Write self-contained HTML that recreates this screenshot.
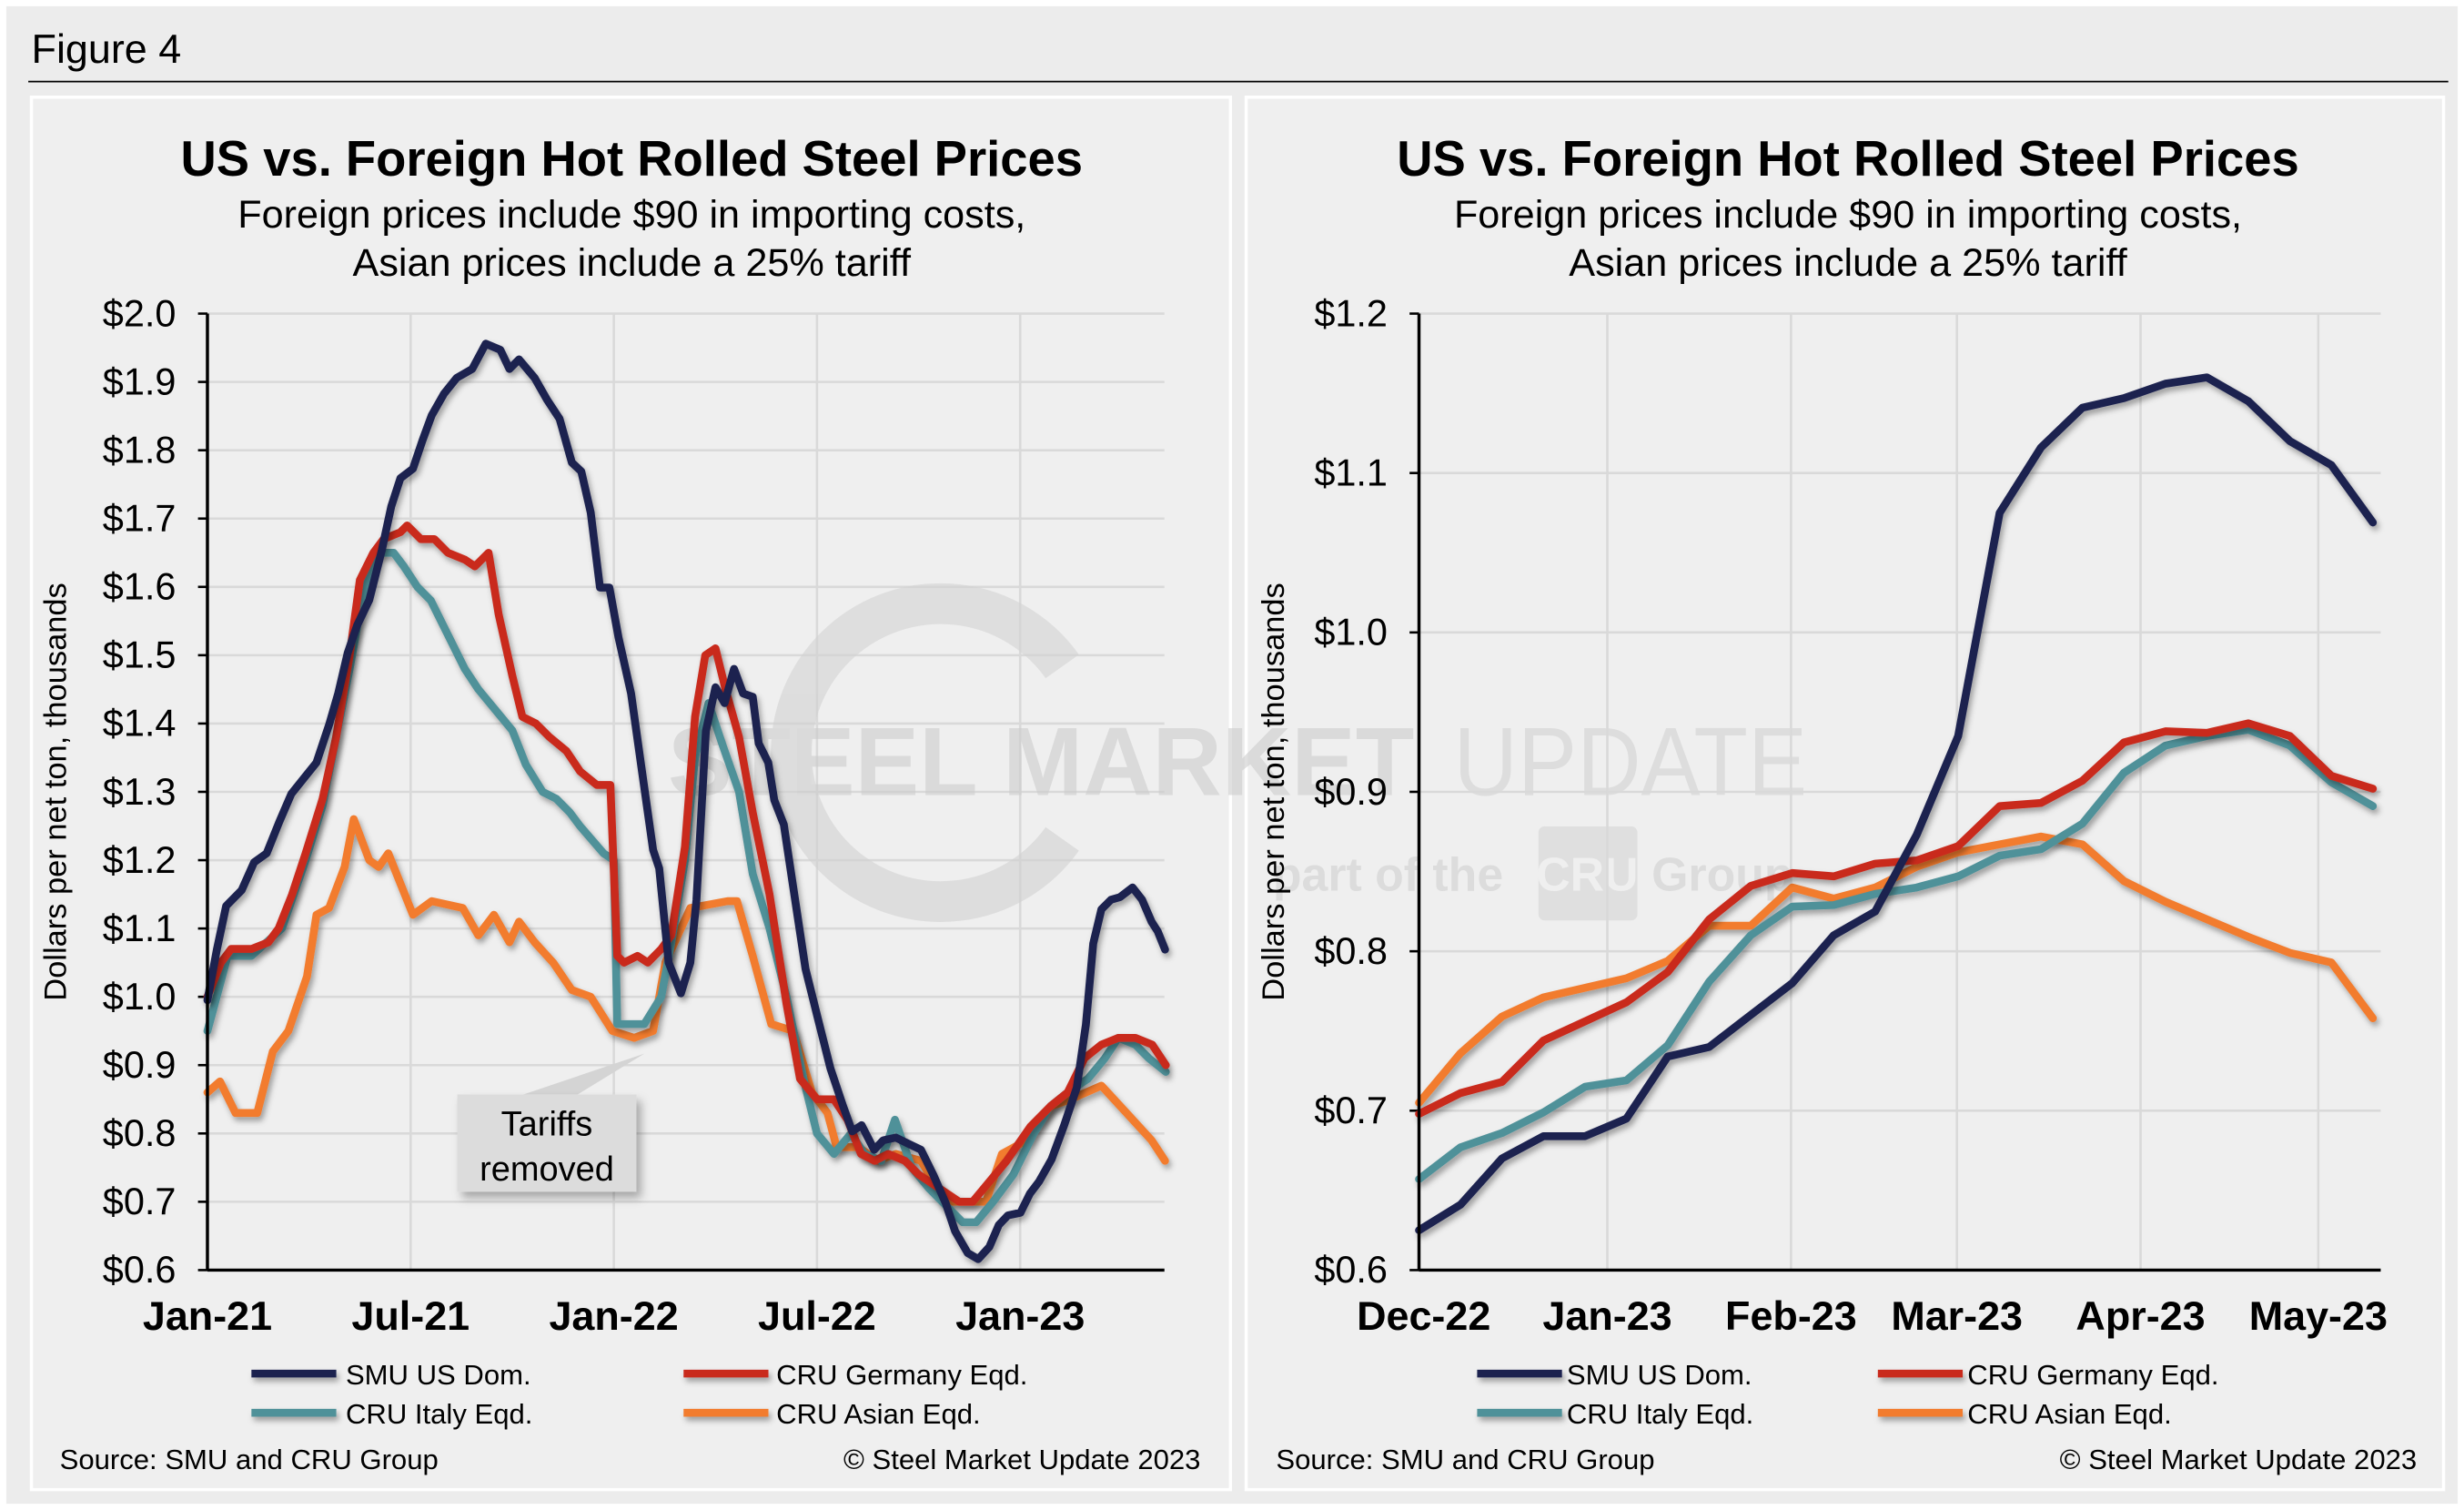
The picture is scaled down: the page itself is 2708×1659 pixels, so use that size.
<!DOCTYPE html>
<html><head><meta charset="utf-8"><style>
html,body{margin:0;padding:0;background:#ececec;}
svg{display:block;font-family:"Liberation Sans",Arial,sans-serif;}
</style></head><body>
<svg id="fig" width="2708" height="1659" viewBox="0 0 1568 963" preserveAspectRatio="none" xmlns="http://www.w3.org/2000/svg">
<defs>
<filter id="sh" filterUnits="userSpaceOnUse" x="0" y="0" width="1568" height="963"><feDropShadow dx="1.5" dy="2.5" stdDeviation="1.8" flood-color="#000" flood-opacity="0.35"/></filter>
<filter id="bsh" filterUnits="userSpaceOnUse" x="0" y="0" width="1568" height="963"><feDropShadow dx="3" dy="4" stdDeviation="3" flood-color="#000" flood-opacity="0.3"/></filter>
</defs>
<rect x="0" y="0" width="1568" height="963" fill="#ffffff"/>
<rect x="4" y="4" width="1560" height="955" fill="#ececec"/>
<text x="20" y="40" font-size="26" fill="#000">Figure 4</text>
<line x1="18" y1="52" x2="1558" y2="52" stroke="#000" stroke-width="1"/>
<rect x="20" y="62" width="763" height="888" fill="#efefef" stroke="#fff" stroke-width="2"/>
<rect x="793" y="62" width="762" height="888" fill="#efefef" stroke="#fff" stroke-width="2"/>
<g id="left"></g>
<g id="right"></g>
</svg>
<script>
// ---------- Left chart data (x = months since Jan-21) ----------
const leftXTicks = ["Jan-21","Jul-21","Jan-22","Jul-22","Jan-23"];
const leftYTicks = ["$0.6","$0.7","$0.8","$0.9","$1.0","$1.1","$1.2","$1.3","$1.4","$1.5","$1.6","$1.7","$1.8","$1.9","$2.0"];
const leftSmuX = [0,.28,.55,1.01,1.38,1.75,2.12,2.48,2.85,3.22,3.59,3.86,4.14,4.42,4.78,5.15,5.43,5.70,6.07,6.35,6.62,6.99,7.36,7.82,8.22,8.65,8.92,9.20,9.66,10.03,10.40,10.76,11.04,11.32,11.59,11.87,12.14,12.51,12.82,13.16,13.34,13.62,13.98,14.26,14.44,14.72,15.00,15.27,15.55,15.82,16.10,16.28,16.56,16.74,17.02,17.30,17.66,18.03,18.40,18.77,19.04,19.32,19.69,19.96,20.33,20.70,21.07,21.44,21.80,22.08,22.45,22.76,23.09,23.37,23.64,24.01,24.29,24.56,24.93,25.30,25.67,25.94,26.16,26.40,26.68,26.95,27.32,27.60,27.88,28.06,28.28];
const leftSmuY = [.995,1.069,1.133,1.156,1.197,1.210,1.256,1.297,1.320,1.343,1.398,1.444,1.503,1.544,1.581,1.654,1.718,1.759,1.773,1.814,1.851,1.883,1.906,1.919,1.956,1.947,1.919,1.933,1.906,1.874,1.846,1.782,1.769,1.709,1.599,1.599,1.526,1.444,1.334,1.215,1.188,1.050,1.005,1.050,1.142,1.389,1.453,1.430,1.480,1.444,1.439,1.371,1.343,1.288,1.252,1.160,1.041,.968,.895,.840,.803,.812,.776,.790,.794,.785,.776,.739,.698,.657,.625,.616,.634,.666,.680,.684,.712,.730,.762,.812,.867,.959,1.078,1.128,1.142,1.146,1.160,1.142,1.110,1.096,1.069];
const leftGerX = [0,.4,.7,1.3,1.8,2.1,2.5,2.9,3.4,3.8,4.2,4.5,4.9,5.2,5.7,5.9,6.3,6.7,7.1,7.6,7.9,8.3,8.6,9.0,9.3,9.7,10.1,10.6,11.0,11.5,11.9,12.1,12.3,12.7,13.0,13.4,13.7,14.1,14.4,14.7,15.0,15.3,15.7,16.1,16.6,17.1,17.5,18.0,18.5,18.9,19.3,19.7,20.1,20.6,21.0,21.6,22.2,22.6,23.1,23.6,24.3,24.9,25.4,25.9,26.4,26.9,27.4,27.9,28.3];
const leftGerY = [1.0,1.05,1.07,1.07,1.08,1.10,1.15,1.21,1.29,1.38,1.50,1.61,1.65,1.67,1.68,1.69,1.67,1.67,1.65,1.64,1.63,1.65,1.56,1.47,1.41,1.40,1.38,1.36,1.33,1.31,1.31,1.06,1.05,1.06,1.05,1.07,1.09,1.22,1.41,1.50,1.51,1.45,1.38,1.27,1.15,.99,.88,.85,.85,.82,.77,.76,.77,.76,.74,.72,.70,.70,.73,.76,.81,.84,.86,.91,.93,.94,.94,.93,.90];
const leftItaX = [0,.6,1.3,2.2,2.9,3.4,3.8,4.2,4.6,5.0,5.5,5.8,6.2,6.6,7.1,7.6,8.0,8.5,9.0,9.4,9.9,10.3,10.7,11.0,11.7,12.0,12.1,12.4,12.9,13.4,13.7,14.1,14.4,14.8,15.2,15.7,16.1,16.6,17.1,17.6,18.0,18.5,19.0,19.4,19.9,20.3,20.8,21.3,21.7,22.3,22.7,23.2,23.8,24.4,24.9,25.4,26.0,26.5,26.9,27.4,27.8,28.3];
const leftItaY = [.95,1.06,1.06,1.10,1.20,1.28,1.38,1.48,1.59,1.65,1.65,1.63,1.60,1.58,1.53,1.48,1.45,1.42,1.39,1.34,1.30,1.29,1.27,1.25,1.21,1.20,.96,.96,.96,1.0,1.08,1.20,1.35,1.43,1.37,1.30,1.18,1.10,1.00,.88,.80,.77,.80,.77,.76,.82,.75,.72,.70,.67,.67,.70,.74,.80,.84,.86,.88,.91,.94,.93,.91,.89];
const leftAsiX = [0,.37,.83,1.47,1.93,2.39,2.94,3.22,3.59,4.05,4.32,4.78,5.06,5.34,6.07,6.62,7.54,8.00,8.46,8.92,9.20,9.66,10.21,10.76,11.32,11.96,12.60,13.16,13.52,14.26,15.36,15.64,16.10,16.65,17.30,17.85,18.31,18.58,19.23,19.78,20.33,21.07,21.80,22.36,22.99,23.46,24.20,24.93,25.48,26.40,27.14,27.88,28.28];
const leftAsiY = [.86,.876,.83,.83,.92,.95,1.03,1.12,1.13,1.19,1.26,1.20,1.19,1.21,1.12,1.14,1.13,1.09,1.12,1.08,1.11,1.08,1.05,1.01,1.0,.95,.94,.95,1.05,1.13,1.14,1.14,1.06,.96,.95,.86,.83,.78,.78,.76,.77,.76,.70,.70,.70,.77,.79,.84,.85,.87,.83,.79,.76];

// ---------- Right chart data (x = weeks since early Dec-22) ----------
const rightXTicks = ["Dec-22","Jan-23","Feb-23","Mar-23","Apr-23","May-23"];
const rightXTickDays = [0,31,62,90,121,151];
const rightYTicks = ["$0.6","$0.7","$0.8","$0.9","$1.0","$1.1","$1.2"];
const rightSmu = [.625,.641,.670,.684,.684,.695,.734,.740,.760,.780,.810,.825,.873,.935,1.075,1.116,1.141,1.147,1.156,1.160,1.145,1.120,1.105,1.069];
const rightGer = [.698,.711,.718,.744,.756,.768,.787,.820,.841,.849,.847,.855,.857,.866,.891,.893,.907,.931,.938,.937,.943,.935,.910,.902];
const rightIta = [.657,.677,.686,.699,.715,.719,.741,.781,.810,.828,.829,.836,.840,.847,.860,.864,.880,.912,.929,.935,.939,.929,.906,.891];
const rightAsi = [.705,.736,.759,.771,.777,.783,.794,.816,.816,.840,.833,.840,.853,.862,.867,.872,.867,.844,.831,.820,.809,.799,.793,.758];

const COLORS = {smu:"#1b2150", ger:"#c92a1e", ita:"#4f9199", asi:"#f27c2e"};
const NS = "http://www.w3.org/2000/svg";
function mk(parent, tag, attrs, text){
  const e = document.createElementNS(NS, tag);
  for (const k in attrs) e.setAttribute(k, attrs[k]);
  if (text !== undefined) e.textContent = text;
  parent.appendChild(e);
  return e;
}

function drawFrame(g, cx, px0, px1, yTicks, yMin, yMax, ytX){
  const py0 = 200, py1 = 810;
  const yScale = v => py1 - (v - yMin) / (yMax - yMin) * (py1 - py0);
  const t1 = mk(g,"text",{x:cx,y:112,"text-anchor":"middle","font-size":31.5,"font-weight":"bold",fill:"#000"},"US vs. Foreign Hot Rolled Steel Prices");
  
  
  const s1 = mk(g,"text",{x:cx,y:145,"text-anchor":"middle","font-size":25,fill:"#000"},"Foreign prices include $90 in importing costs,");
  
  
  const s2 = mk(g,"text",{x:cx,y:176,"text-anchor":"middle","font-size":25,fill:"#000"},"Asian prices include a 25% tariff");
  
  
  yTicks.forEach((lab,i)=>{
    const v = yMin + i*(yMax-yMin)/(yTicks.length-1);
    const y = yScale(v);
    if (i>0){
      const gl = mk(g,"line",{x1:px0,x2:px1,y1:y,y2:y,stroke:"#d9d9d9","stroke-width":1.5});
      
      
    }
    mk(g,"line",{x1:px0-6,x2:px0,y1:y,y2:y,stroke:"#000","stroke-width":1.5});
    const tl = mk(g,"text",{x:px0-20,y:y+8,"text-anchor":"end","font-size":24,fill:"#000"},lab);
    
    
  });
  const yt = mk(g,"text",{x:0,y:0,"text-anchor":"middle","font-size":20,fill:"#000",transform:`translate(${ytX},505) rotate(-90)`},"Dollars per net ton, thousands");
  
  
  return {yScale, py0, py1};
}

function drawLine(g, xs, ys, xScale, yScale, color, name){
  let d = "";
  xs.forEach((x,i)=>{ d += (i?"L":"M") + xScale(x).toFixed(1) + " " + yScale(ys[i]).toFixed(1); });
  const p = mk(g,"path",{d, fill:"none", stroke:color, "stroke-width":5, "stroke-linejoin":"round", "stroke-linecap":"round", filter:"url(#sh)"});
  
  
}

function drawAxesLines(g, px0, px1, py0, py1){
  mk(g,"line",{x1:px0,x2:px0,y1:py0,y2:py1,stroke:"#000","stroke-width":2});
  mk(g,"line",{x1:px0,x2:px1,y1:py1,y2:py1,stroke:"#000","stroke-width":2});
}

function drawLegend(g, lx1, tx1, lx2, tx2){
  const items = [["SMU US Dom.",COLORS.smu,lx1,tx1,876],["CRU Germany Eqd.",COLORS.ger,lx2,tx2,876],["CRU Italy Eqd.",COLORS.ita,lx1,tx1,901],["CRU Asian Eqd.",COLORS.asi,lx2,tx2,901]];
  items.forEach(it=>{
    const l = mk(g,"line",{x1:it[2],x2:it[2]+54,y1:it[4],y2:it[4],stroke:it[1],"stroke-width":5,filter:"url(#sh)"});
    
    
    const t = mk(g,"text",{x:it[3],y:it[4]+7,"font-size":18,fill:"#000"},it[0]);
    
    
  });
}

function drawSource(g, x1, x2){
  const a = mk(g,"text",{x:x1,y:937,"font-size":18,fill:"#000"},"Source: SMU and CRU Group");
  
  
  const b = mk(g,"text",{x:x2,y:937,"font-size":18,fill:"#000","text-anchor":"end"},"© Steel Market Update 2023");
  
  
}

// ---------- LEFT ----------
(function(){
  const g = document.getElementById("left");
  const px0 = 132, px1 = 741;
  const f = drawFrame(g, 402, px0, px1, leftYTicks, 0.6, 2.0, 42);
  const monthPx = 21.55;
  const xScale = m => px0 + m*monthPx;
  leftXTicks.forEach((lab,i)=>{
    const x = xScale(i*6);
    if (i>0){
      const gl = mk(g,"line",{x1:x,x2:x,y1:f.py0,y2:f.py1,stroke:"#d9d9d9","stroke-width":1.5});
      
      
    }
    const t = mk(g,"text",{x:x,y:848,"text-anchor":"middle","font-size":26,"font-weight":"bold",fill:"#000"},lab);
    
    
  });
  // watermark
  const wm = mk(g,"g",{opacity:0.6});
  
  
  mk(wm,"path",{d:"M 676 425 A 95 95 0 1 0 676 535",fill:"none",stroke:"#d2d2d2","stroke-width":26});
  mk(wm,"text",{x:425,y:507,"font-size":62,"font-weight":"bold",fill:"#cdcdcd",textLength:475,lengthAdjust:"spacingAndGlyphs"},"STEEL MARKET");
  mk(wm,"text",{x:925,y:507,"font-size":62,fill:"#d2d2d2",textLength:225,lengthAdjust:"spacingAndGlyphs"},"UPDATE");
  mk(wm,"text",{x:810,y:568,"font-size":30,"font-weight":"bold",fill:"#d0d0d0"},"part of the");
  mk(wm,"rect",{x:979,y:527,width:63,height:60,rx:4,fill:"#d6d6d6"});
  mk(wm,"text",{x:1010,y:568,"font-size":30,"font-weight":"bold",fill:"#efefef","text-anchor":"middle"},"CRU");
  mk(wm,"text",{x:1051,y:568,"font-size":30,"font-weight":"bold",fill:"#d0d0d0"},"Group");
  drawLine(g, leftAsiX, leftAsiY, xScale, f.yScale, COLORS.asi, "series-cru-asian");
  drawLine(g, leftItaX, leftItaY, xScale, f.yScale, COLORS.ita, "series-cru-italy");
  drawLine(g, leftGerX, leftGerY, xScale, f.yScale, COLORS.ger, "series-cru-germany");
  drawLine(g, leftSmuX, leftSmuY, xScale, f.yScale, COLORS.smu, "series-smu-us");
  drawAxesLines(g, px0, px1, f.py0, f.py1);
  // annotation
  const an = mk(g,"g",{});
  
  
  mk(an,"polygon",{points:"330,699 366,699 410,672",fill:"#d4d4d4"});
  mk(an,"rect",{x:291,y:698,width:114,height:62,fill:"#dcdcdc",filter:"url(#bsh)"});
  mk(an,"text",{x:348,y:724,"text-anchor":"middle","font-size":22,fill:"#000"},"Tariffs");
  mk(an,"text",{x:348,y:753,"text-anchor":"middle","font-size":22,fill:"#000"},"removed");
  drawLegend(g, 160, 220, 435, 494);
  drawSource(g, 38, 764);
})();

// ---------- RIGHT ----------
(function(){
  const g = document.getElementById("right");
  const px0 = 903, px1 = 1515;
  const f = drawFrame(g, 1176, px0, px1, rightYTicks, 0.6, 1.2, 817);
  const dayPx = 3.77;
  const xDay = d => 906 + d*dayPx;
  const xWeek = w => xDay(w*7) - 3;
  rightXTicks.forEach((lab,i)=>{
    const x = xDay(rightXTickDays[i]);
    if (i>0){
      const gl = mk(g,"line",{x1:x,x2:x,y1:f.py0,y2:f.py1,stroke:"#d9d9d9","stroke-width":1.5});
      
      
    }
    const t = mk(g,"text",{x:x,y:848,"text-anchor":"middle","font-size":26,"font-weight":"bold",fill:"#000"},lab);
    
    
  });
  const weeks = rightSmu.map((_,i)=>i);
  drawLine(g, weeks, rightAsi, xWeek, f.yScale, COLORS.asi, "series-cru-asian");
  drawLine(g, weeks, rightIta, xWeek, f.yScale, COLORS.ita, "series-cru-italy");
  drawLine(g, weeks, rightGer, xWeek, f.yScale, COLORS.ger, "series-cru-germany");
  drawLine(g, weeks, rightSmu, xWeek, f.yScale, COLORS.smu, "series-smu-us");
  drawAxesLines(g, px0, px1, f.py0, f.py1);
  drawLegend(g, 940, 997, 1195, 1252);
  drawSource(g, 812, 1538);
})();
</script>
</body></html>
